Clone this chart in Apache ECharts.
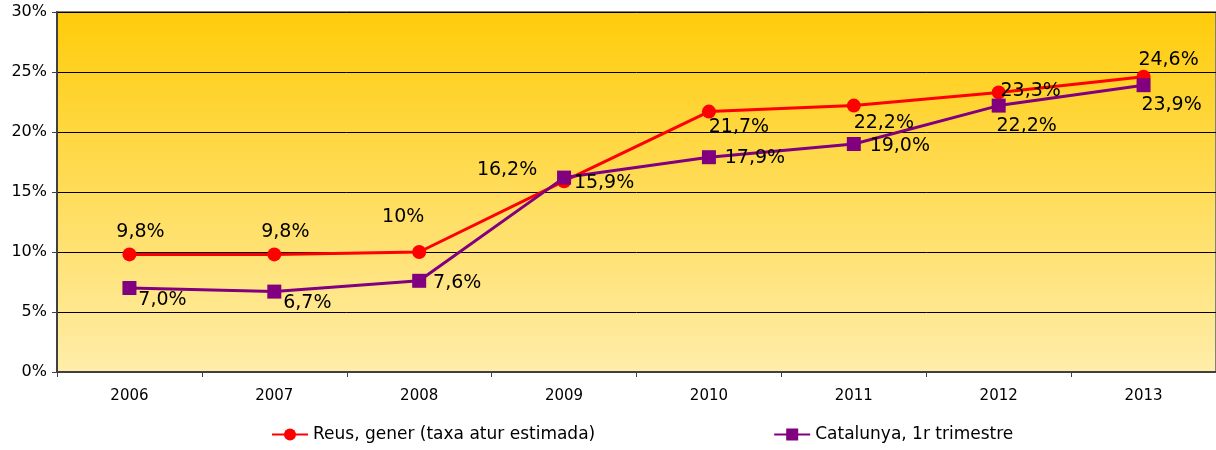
<!DOCTYPE html>
<html>
<head>
<meta charset="utf-8">
<script src="https://cdn.jsdelivr.net/npm/echarts@6/dist/echarts.min.js"></script>
<style>
  html, body { margin: 0; padding: 0; background: #fff; }
  #chart { width: 1216px; height: 450px; }
</style>
</head>
<body>
<div id="chart"></div>
<script>
// dades
const years = ["2006", "2007", "2008", "2009", "2010", "2011", "2012", "2013"];
const reusValues = [9.8, 9.8, 10, 15.9, 21.7, 22.2, 23.3, 24.6];
const catValues = [7.0, 6.7, 7.6, 16.2, 17.9, 19.0, 22.2, 23.9];
const reusLabels = ["9,8%", "9,8%", "10%", "15,9%", "21,7%", "22,2%", "23,3%", "24,6%"];
const catLabels = ["7,0%", "6,7%", "7,6%", "16,2%", "17,9%", "19,0%", "22,2%", "23,9%"];
const reusName = "Reus, gener (taxa atur estimada)";
const catName = "Catalunya, 1r trimestre";

// label offsets (px) relative to the point
const reusOffsets = [[11, -22], [11, -22], [-16, -35], [40, 2], [30, 15], [30, 17], [32, -1], [25, -17]];
const catOffsets = [[33, 12], [33, 11], [38, 2], [-57, -8], [46, 1], [46, 2], [28, 20], [28, 20]];

const FONT = "'DejaVu Sans', sans-serif";

function buildData(values, labels, offsets) {
  return values.map((v, i) => ({
    value: v,
    label: { formatter: labels[i], offset: offsets[i] },
  }));
}

const chart = echarts.init(document.getElementById("chart"));

const option = {
  animation: false,
  textStyle: { fontFamily: FONT },
  grid: {
    left: 57,
    right: 0,
    top: 12,
    bottom: 78,
    show: true,
    borderColor: "#808080",
    borderWidth: 2,
    backgroundColor: new echarts.graphic.LinearGradient(0, 0, 0, 1, [
      { offset: 0, color: "#ffcc0a" },
      { offset: 1, color: "#ffedaa" },
    ]),
  },
  legend: {
    bottom: 2,
    left: 266,
    itemGap: 178,
    itemWidth: 36,
    itemHeight: 15,
    textStyle: { fontSize: 17, color: "#000", fontFamily: FONT },
    data: [reusName, catName],
  },
  xAxis: {
    type: "category",
    data: years,
    boundaryGap: true,
    axisLine: { lineStyle: { color: "#404040", width: 2 } },
    axisTick: { show: true, length: 5, lineStyle: { color: "#404040" } },
    axisLabel: { fontSize: 15, color: "#000", margin: 17 },
  },
  yAxis: {
    type: "value",
    min: 0,
    max: 30,
    interval: 5,
    axisLine: { show: true, lineStyle: { color: "#404040", width: 2 } },
    axisTick: { show: true, length: 5, lineStyle: { color: "#404040" } },
    axisLabel: { fontSize: 16, color: "#000", margin: 10, formatter: "{value}%" },
    splitLine: { lineStyle: { color: "#000", width: 1 } },
  },
  series: [
    {
      name: reusName,
      type: "line",
      data: buildData(reusValues, reusLabels, reusOffsets),
      symbol: "circle",
      symbolSize: 14,
      lineStyle: { color: "#ff0000", width: 3 },
      itemStyle: { color: "#ff0000" },
      label: {
        show: true,
        position: "inside",
        fontSize: 19,
        color: "#000",
        fontFamily: FONT,
      },
    },
    {
      name: catName,
      type: "line",
      data: buildData(catValues, catLabels, catOffsets),
      symbol: "rect",
      symbolSize: 14,
      lineStyle: { color: "#800080", width: 3 },
      itemStyle: { color: "#800080" },
      label: {
        show: true,
        position: "inside",
        fontSize: 19,
        color: "#000",
        fontFamily: FONT,
      },
    },
  ],
};

chart.setOption(option);
</script>
</body>
</html>
